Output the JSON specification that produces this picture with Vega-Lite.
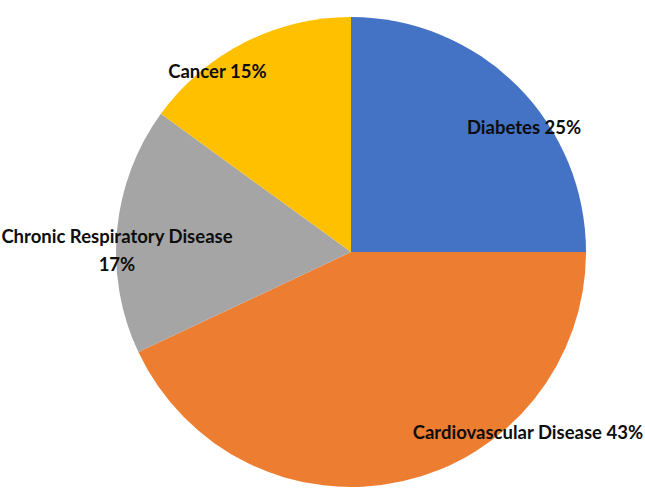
{
  "$schema": "https://vega.github.io/schema/vega-lite/v6.json",
  "width": 702,
  "height": 504,
  "autosize": "none",
  "padding": 0,
  "background": "white",
  "config": {"view": {"stroke": null}},
  "data": {"values": [
    {"Category": "Diabetes", "Value": 25, "Rank": 1, "Label": "Diabetes 25%"},
    {"Category": "Cardiovascular Disease", "Value": 43, "Rank": 2, "Label": "Cardiovascular Disease 43%"},
    {"Category": "Chronic Respiratory Disease", "Value": 17, "Rank": 3, "Label": "Chronic Respiratory Disease\n17%"},
    {"Category": "Cancer", "Value": 15, "Rank": 4, "Label": "Cancer 15%"}
  ]},
  "encoding": {
    "theta": {"field": "Value", "type": "quantitative", "stack": true},
    "order": {"field": "Rank", "type": "quantitative"}
  },
  "layer": [
    {
      "mark": {"type": "arc", "outerRadius": 235},
      "encoding": {
        "color": {
          "field": "Category", "type": "nominal", "legend": null,
          "scale": {
            "domain": ["Diabetes", "Cardiovascular Disease", "Chronic Respiratory Disease", "Cancer"],
            "range": ["#4472C4", "#ED7D31", "#A5A5A5", "#FFC000"]
          }
        }
      }
    },
    {
      "mark": {"type": "text", "radius": 215, "dx": 21, "dy": 28, "font": "Lato", "fontWeight": "bold", "fontSize": 18.5, "fill": "#0d0d0d", "align": "center", "baseline": "middle", "lineBreak": "\n", "lineHeight": 28},
      "encoding": {
        "detail": {"field": "Category", "type": "nominal"},
        "text": {"condition": {"test": "datum.Category === 'Diabetes'", "field": "Label"}, "value": ""}
      }
    },
    {
      "mark": {"type": "text", "radius": 215, "dx": 130, "dy": -29, "font": "Lato", "fontWeight": "bold", "fontSize": 18.5, "fill": "#0d0d0d", "align": "center", "baseline": "middle", "lineBreak": "\n", "lineHeight": 28},
      "encoding": {
        "detail": {"field": "Category", "type": "nominal"},
        "text": {"condition": {"test": "datum.Category === 'Cardiovascular Disease'", "field": "Label"}, "value": ""}
      }
    },
    {
      "mark": {"type": "text", "radius": 215, "dx": -20, "dy": 5, "font": "Lato", "fontWeight": "bold", "fontSize": 18.5, "fill": "#0d0d0d", "align": "center", "baseline": "middle", "lineBreak": "\n", "lineHeight": 28},
      "encoding": {
        "detail": {"field": "Category", "type": "nominal"},
        "text": {"condition": {"test": "datum.Category === 'Chronic Respiratory Disease'", "field": "Label"}, "value": ""}
      }
    },
    {
      "mark": {"type": "text", "radius": 215, "dx": -36, "dy": 12, "font": "Lato", "fontWeight": "bold", "fontSize": 18.5, "fill": "#0d0d0d", "align": "center", "baseline": "middle", "lineBreak": "\n", "lineHeight": 28},
      "encoding": {
        "detail": {"field": "Category", "type": "nominal"},
        "text": {"condition": {"test": "datum.Category === 'Cancer'", "field": "Label"}, "value": ""}
      }
    }
  ]
}
